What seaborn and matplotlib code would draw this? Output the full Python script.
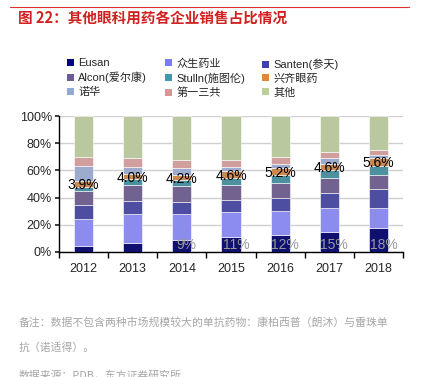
import pandas as pd
import numpy as np
import matplotlib.pyplot as plt
import seaborn as sns
from matplotlib.patches import Patch

# shares (%)
years = ['2012', '2013', '2014', '2015', '2016', '2017', '2018']
companies = ['Eusan', '众生药业', 'Santen(参天)', 'Alcon(爱尔康)', 'Stulln(施图伦)',
             '兴齐眼药', '诺华', '第一三共', '其他']
eusan = [4.2, 6.6, 9.1, 10.8, 12.3, 14.6, 17.6]
zhongsheng = [19.8, 21.1, 18.6, 18.6, 18.1, 17.5, 15.0]
santen = [10.8, 9.8, 9.1, 8.8, 9.3, 11.0, 13.7]
alcon = [10.1, 11.8, 11.7, 11.1, 11.0, 11.3, 10.1]
stulln = [3.2, 4.2, 4.2, 5.4, 5.6, 6.0, 6.9]
xingqi = [3.9, 4.0, 4.2, 4.6, 5.2, 4.6, 5.6]
novartis = [11.0, 4.8, 4.9, 3.4, 3.5, 3.9, 2.7]
daiichi = [7.0, 6.8, 5.6, 4.9, 4.6, 4.4, 3.2]
others = [30.0, 30.9, 32.6, 32.4, 30.4, 26.7, 25.2]
eusan_labels = ['', '', '9%', '11%', '12%', '15%', '18%']
xingqi_labels = ['3.9%', '4.0%', '4.2%', '4.6%', '5.2%', '4.6%', '5.6%']

series = [eusan, zhongsheng, santen, alcon, stulln, xingqi, novartis, daiichi, others]
colors = ['#000080', '#7B7BFF', '#3F3FAF', '#6E5A96', '#3F99AF',
          '#E0883A', '#94A8D6', '#D99595', '#BBCF98']

sns.set_theme(style='white')
plt.rcParams['font.family'] = ['Liberation Sans', 'Noto Sans CJK SC']

fig = plt.figure(figsize=(4.33, 3.77), dpi=100)
ax = fig.add_axes([0.136, 0.3316, 0.795, 0.3607])

bottom = np.zeros(len(years))
for name, vals, c in zip(companies, series, colors):
    df = pd.DataFrame({'year': years, 'share': vals})
    sns.barplot(data=df, x='year', y='share', color=c, width=0.39,
                bottom=bottom, edgecolor='white', linewidth=0.4, ax=ax, zorder=3)
    bottom = bottom + np.array(vals)

# labels
xq_mid = np.array(eusan) + np.array(zhongsheng) + np.array(santen) + np.array(alcon) + np.array(stulln) + np.array(xingqi) / 2
for i, (lab1, lab2) in enumerate(zip(eusan_labels, xingqi_labels)):
    ax.text(i, xq_mid[i] - 0.8, lab2, ha='center', va='center', fontsize=10, color='black', zorder=5)
    if lab1:
        ax.text(i + 0.1, 5, lab1, ha='center', va='center', fontsize=10, color='#9A9A9A', zorder=5)

ax.set_ylim(0, 100)
ax.set_xlim(-0.5, len(years) - 0.5)
ax.set_yticks(range(0, 101, 20))
ax.set_yticklabels([f'{v}%' for v in range(0, 101, 20)], fontsize=9)
ax.tick_params(axis='x', length=0, labelsize=9, pad=8)
ax.tick_params(axis='y', length=3, direction='out', left=True, pad=2)
ax.set_xticks(np.arange(-0.5, len(years), 1), minor=True)
ax.tick_params(axis='x', which='minor', length=4, direction='out', bottom=True, color='black')
ax.set_xlabel('')
ax.set_ylabel('')
ax.grid(axis='y', color='#D0D0D0', linewidth=1, zorder=0)
ax.set_axisbelow(True)
for s in ['top', 'right']:
    ax.spines[s].set_visible(False)
for s in ['left', 'bottom']:
    ax.spines[s].set_color('black')
    ax.spines[s].set_linewidth(1)

# legend: three single-column legends, row-major like the original
col_x = [0.155, 0.381, 0.605]
for j in range(3):
    idx = [j, j + 3, j + 6]
    handles = [Patch(facecolor=colors[k], edgecolor='none') for k in idx]
    labels = [companies[k] for k in idx]
    fig.legend(handles, labels, ncol=1, loc='upper left', bbox_to_anchor=(col_x[j], 0.845),
               frameon=False, fontsize=8, handlelength=0.6, handleheight=0.6,
               handletextpad=0.4, labelspacing=0.32, borderaxespad=0, borderpad=0)

# title and header line
fig.add_artist(plt.Line2D([0.023, 0.945], [0.981, 0.981], color='#E03030', linewidth=0.8))
fig.text(0.042, 0.952, '图 22：其他眼科用药各企业销售占比情况', fontsize=10.5,
         fontweight='bold', color='#D02020', va='center', family=['Noto Sans CJK SC'])

# footnotes
fig.text(0.042, 0.146, '备注：数据不包含两种市场规模较大的单抗药物：康柏西普（朗沐）与雷珠单',
         fontsize=7.8, color='#A6A6A6', va='center', family=['Noto Sans CJK SC'])
fig.text(0.042, 0.077, '抗（诺适得）。', fontsize=7.8, color='#A6A6A6', va='center',
         family=['Noto Sans CJK SC'])
fig.text(0.042, 0.004, '数据来源：PDB，东方证券研究所', fontsize=7.8, color='#A6A6A6',
         va='center', family=['Noto Sans CJK SC'])

fig.savefig('out.png', dpi=100)
